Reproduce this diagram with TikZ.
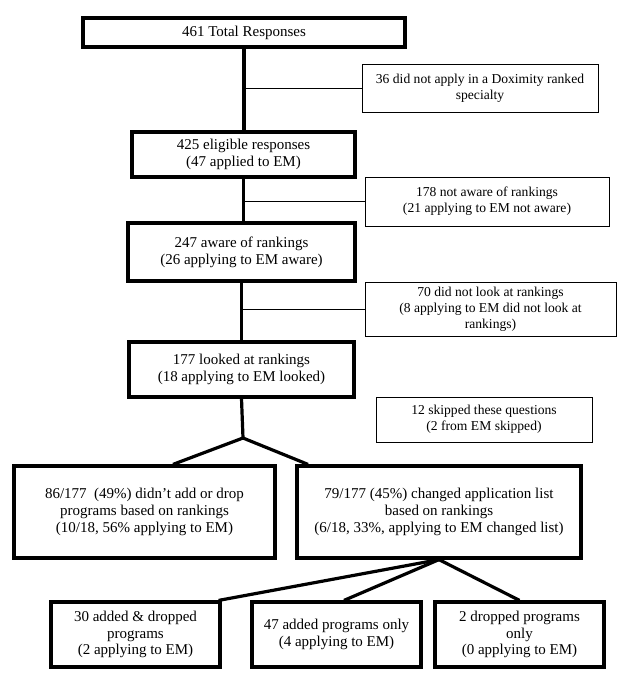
\documentclass[tikz,border=0pt]{standalone}
\usepackage{fontspec}
\setmainfont{Liberation Serif}
\begin{document}
\begin{tikzpicture}[x=1pt,y=-1pt,
        mainbox/.style={draw, line width=3.2pt, align=center, inner sep=0pt,
            font=\fontsize{15}{16.7}\selectfont},
        sidebox/.style={draw, line width=0.9pt, align=center, inner sep=0pt,
            font=\fontsize{13.6}{16}\selectfont},
        spine/.style={line width=3.2pt},
        branch/.style={line width=0.9pt}]
        \useasboundingbox (0,0) rectangle (623,680);
        \node[mainbox, minimum width=322pt, minimum height=29pt] (T) at (244,32.5) {461 Total Responses};
        \node[sidebox, minimum width=236pt, minimum height=48pt] (S1) at (480,88) {36 did not apply in a Doximity ranked\\specialty};
        \node[mainbox, minimum width=223pt, minimum height=45pt] (E) at (243.5,154.5) {425 eligible responses\\(47 applied to EM)};
        \node[sidebox, minimum width=244pt, minimum height=49pt] (S2) at (487,201.5) {178 not aware of rankings\\(21 applying to EM not aware)};
        \node[mainbox, minimum width=227pt, minimum height=58pt] (A) at (241.5,252) {247 aware of rankings\\(26 applying to EM aware)};
        \node[sidebox, minimum width=251pt, minimum height=54pt] (S3) at (490.5,309) {70 did not look at rankings\\(8 applying to EM did not look at\\rankings)};
        \node[mainbox, minimum width=225pt, minimum height=55pt] (L) at (241.5,369.5) {177 looked at rankings\\(18 applying to EM looked)};
        \node[sidebox, minimum width=216pt, minimum height=45pt] (S4) at (484,419.5) {12 skipped these questions\\(2 from EM skipped)};
        \coordinate (F) at (243,438);
        \node[mainbox, minimum width=261pt, minimum height=92pt] (N) at (144.5,512) {86/177\ \ (49\%) didn’t add or drop\\programs based on rankings\\(10/18, 56\% applying to EM)};
        \node[mainbox, minimum width=284pt, minimum height=92pt] (C) at (439,512) {79/177 (45\%) changed application list\\based on rankings\\(6/18, 33\%, applying to EM changed list)};
        \node[mainbox, minimum width=169pt, minimum height=65pt] (AD) at (135.5,634.5) {30 added \& dropped\\programs\\(2 applying to EM)};
        \node[mainbox, minimum width=169pt, minimum height=65pt] (AO) at (336.5,634.5) {47 added programs only\\(4 applying to EM)};
        \node[mainbox, minimum width=169pt, minimum height=65pt] (DO) at (519.5,634.5) {2 dropped programs\\only\\(0 applying to EM)};
        % main line down
        \draw[spine] (T.south) -- (T.south |- E.north);
        \draw[spine] (E.south) -- (E.south |- A.north);
        \draw[spine] (A.south) -- (A.south |- L.north);
        \draw[spine] (L.south) -- (F);
        % excluded
        \draw[branch] (S1.west) -- (S1.west -| T.south);
        \draw[branch] (S2.west) -- (S2.west -| E.south);
        \draw[branch] (S3.west) -- (S3.west -| A.south);
        % split
        \draw[spine] (F) -- ([xshift=28.5pt]N.north);
        \draw[spine] (F) -- ([xshift=-131pt]C.north);
        \draw[spine] (C.south) -- ([xshift=-3pt]AD.north east);
        \draw[spine] (C.south) -- ([xshift=7.5pt]AO.north);
        \draw[spine] (C.south) -- (DO.north);
\end{tikzpicture}
\end{document}
